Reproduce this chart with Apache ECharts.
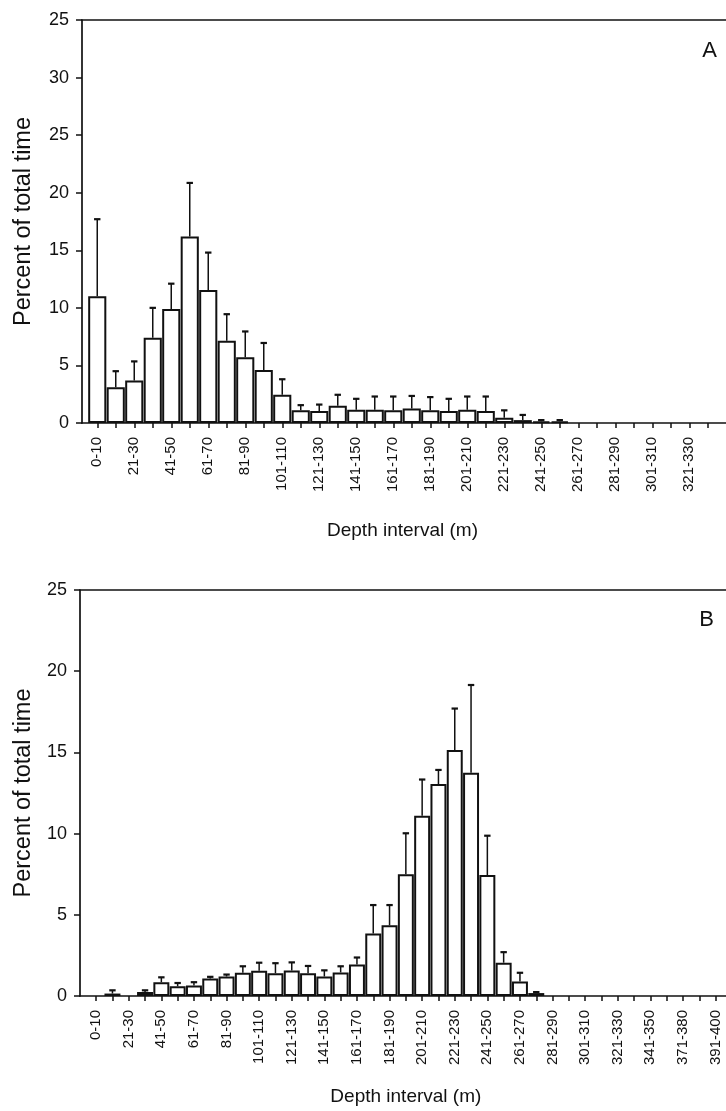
<!DOCTYPE html>
<html>
<head>
<meta charset="utf-8">
<script src="https://cdn.jsdelivr.net/npm/echarts@6/dist/echarts.min.js"></script>
<style>
  html, body { margin: 0; padding: 0; background: #fff; }
  #chart { width: 726px; height: 1111px; }
</style>
</head>
<body>
<div id="chart"></div>
<script>
// ---------- Panel A data ----------
const catsA = ['0-10','11-20','21-30','31-40','41-50','51-60','61-70','71-80','81-90','91-100',
  '101-110','111-120','121-130','131-140','141-150','151-160','161-170','171-180','181-190','191-200',
  '201-210','211-220','221-230','231-240','241-250','251-260','261-270','271-280','281-290','291-300',
  '301-310','311-320','321-330','331-340'];
const meanA = [11.0, 3.1, 3.7, 7.4, 9.9, 16.2, 11.55, 7.15, 5.7, 4.6,
  2.45, 1.1, 1.05, 1.5, 1.15, 1.15, 1.1, 1.25, 1.1, 1.05,
  1.15, 1.05, 0.45, 0.25, 0.15, 0.15, null, null, null, null,
  null, null, null, null];
const sdA = [6.7, 1.4, 1.65, 2.6, 2.2, 4.65, 3.25, 2.3, 2.25, 2.35,
  1.35, 0.45, 0.55, 0.95, 0.95, 1.15, 1.2, 1.1, 1.15, 1.05,
  1.15, 1.25, 0.65, 0.45, 0.1, 0.1, null, null, null, null,
  null, null, null, null];
const yTicksA = ['0','5','10','15','20','25','30','25'];

// ---------- Panel B data ----------
const catsB = ['0-10','11-20','21-30','31-40','41-50','51-60','61-70','71-80','81-90','91-100',
  '101-110','111-120','121-130','131-140','141-150','151-160','161-170','171-180','181-190','191-200',
  '201-210','211-220','221-230','231-240','241-250','251-260','261-270','271-280','281-290','291-300',
  '301-310','311-320','321-330','331-340','341-350','361-370','371-380','381-390','391-400'];
const meanB = [null, 0.15, null, 0.25, 0.85, 0.6, 0.65, 1.08, 1.2, 1.43,
  1.55, 1.4, 1.57, 1.4, 1.2, 1.45, 1.94, 3.85, 4.35, 7.5,
  11.1, 13.05, 15.15, 13.75, 7.45, 2.05, 0.9, 0.18, null, null,
  null, null, null, null, null, null, null, null, null];
const sdB = [null, 0.2, null, 0.1, 0.3, 0.2, 0.2, 0.1, 0.12, 0.4,
  0.5, 0.62, 0.5, 0.45, 0.38, 0.38, 0.43, 1.75, 1.25, 2.52,
  2.23, 0.87, 2.55, 5.4, 2.42, 0.65, 0.53, 0.06, null, null,
  null, null, null, null, null, null, null, null, null];
const yTicksB = ['0','5','10','15','20','25'];

const INK = '#111';
const FONT = '"Liberation Sans", Arial, Helvetica, sans-serif';

function errItems(mean, sd) {
  const out = [];
  mean.forEach((m, i) => { if (m != null) out.push([i, m, m + sd[i]]); });
  return out;
}

function renderErr(params, api) {
  const i = api.value(0), m = api.value(1), top = api.value(2);
  const p0 = api.coord([i, m]);
  const p1 = api.coord([i, top]);
  const half = 3.2;
  return {
    type: 'group',
    children: [
      { type: 'line', shape: { x1: p0[0], y1: p0[1], x2: p1[0], y2: p1[1] },
        style: { stroke: INK, lineWidth: 1.5 } },
      { type: 'line', shape: { x1: p1[0] - half, y1: p1[1], x2: p1[0] + half, y2: p1[1] },
        style: { stroke: INK, lineWidth: 2.2 } }
    ]
  };
}

function frameX(gridIndex, position) {
  return {
    gridIndex, type: 'value', min: 0, max: 1, position,
    axisLine: { show: true, onZero: false, lineStyle: { color: INK, width: 1.7 } },
    axisTick: { show: false }, axisLabel: { show: false }, splitLine: { show: false }
  };
}

function catX(gridIndex, cats, nameGap) {
  return {
    gridIndex, type: 'category', data: cats, position: 'bottom',
    boundaryGap: true,
    axisLine: { show: false },
    axisTick: { show: true, alignWithLabel: true, interval: 0, length: 5,
      lineStyle: { color: INK, width: 1.5 } },
    axisLabel: { interval: 1, rotate: 90, margin: 14, fontSize: 15,
      color: INK, fontFamily: FONT },
    splitLine: { show: false },
    name: 'Depth interval (m)', nameLocation: 'middle', nameGap,
    nameMoveOverlap: false,
    nameTextStyle: { fontSize: 19, color: INK, fontFamily: FONT }
  };
}

function frameY(gridIndex, max, ticks, nameGap) {
  return {
    gridIndex, type: 'value', min: 0, max, interval: 5,
    axisLine: { show: true, lineStyle: { color: INK, width: 1.7 } },
    axisTick: { show: true, length: 6, lineStyle: { color: INK, width: 1.5 } },
    axisLabel: { fontSize: 18, color: INK, fontFamily: FONT, margin: 13,
      formatter: v => ticks[Math.round(v / 5)] },
    splitLine: { show: false },
    name: 'Percent of total time', nameLocation: 'middle', nameGap,
    nameMoveOverlap: false,
    nameTextStyle: { fontSize: 23.5, color: INK, fontFamily: FONT }
  };
}

function hiddenY(gridIndex, max) {
  return { gridIndex, type: 'value', min: 0, max, show: false, splitLine: { show: false } };
}

const barStyle = { color: '#fff', borderColor: INK, borderWidth: 2 };

const option = {
  animation: false,
  backgroundColor: '#fff',
  title: [
    { text: 'A', right: 4, top: 35, textStyle: { fontSize: 22, fontWeight: 'normal', color: INK, fontFamily: FONT } },
    { text: 'B', right: 7, top: 604, textStyle: { fontSize: 22, fontWeight: 'normal', color: INK, fontFamily: FONT } }
  ],
  grid: [
    { left: 82, right: 0, top: 20, height: 403 },
    { left: 88, right: 9, top: 20, height: 403 },
    { left: 80, right: 0, top: 590, height: 406 },
    { left: 88, right: 2.3, top: 590, height: 406 }
  ],
  xAxis: [
    frameX(0, 'bottom'), frameX(0, 'top'),
    catX(1, catsA, 98),
    frameX(2, 'bottom'), frameX(2, 'top'),
    catX(3, catsB, 91)
  ],
  yAxis: [
    frameY(0, 35, yTicksA, 46), hiddenY(1, 35),
    frameY(2, 25, yTicksB, 44), hiddenY(3, 25)
  ],
  series: [
    { type: 'bar', xAxisIndex: 2, yAxisIndex: 1, data: meanA, barCategoryGap: '2%',
      itemStyle: barStyle, silent: true },
    { type: 'custom', xAxisIndex: 2, yAxisIndex: 1, data: errItems(meanA, sdA),
      renderItem: renderErr, z: 5, silent: true },
    { type: 'bar', xAxisIndex: 5, yAxisIndex: 3, data: meanB, barCategoryGap: '2%',
      itemStyle: barStyle, silent: true },
    { type: 'custom', xAxisIndex: 5, yAxisIndex: 3, data: errItems(meanB, sdB),
      renderItem: renderErr, z: 5, silent: true }
  ]
};

const chart = echarts.init(document.getElementById('chart'), null, { renderer: 'canvas' });
chart.setOption(option);
</script>
</body>
</html>
